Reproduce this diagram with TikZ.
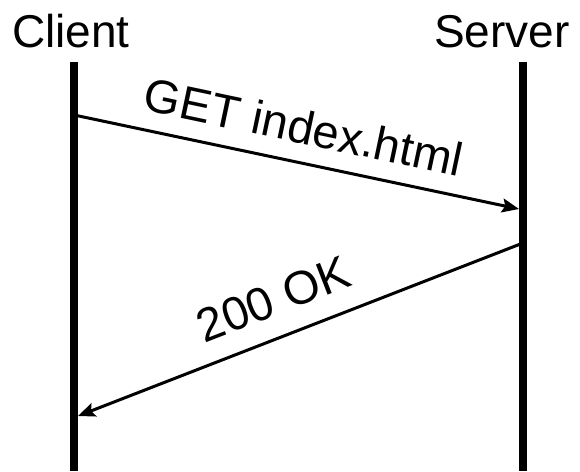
\documentclass[tikz,border=0pt]{standalone}
\usepackage{fontspec}
\setmainfont{Liberation Sans}
\usetikzlibrary{arrows.meta}
\begin{document}
\begin{tikzpicture}[x=1pt,y=-1pt,
  lifeline/.style={line width=7.5pt},
  message/.style={line width=3pt,-{Stealth[length=17pt,width=14pt,inset=3pt]}},
  party/.style={anchor=base,inner sep=0pt,font=\fontsize{46}{55}\selectfont},
  msglabel/.style={sloped,above,inner sep=0pt,font=\fontsize{47}{56}\selectfont}]
  \useasboundingbox (0,0) rectangle (580,471);

  % participants
  \node[party] (client) at (71,47) {Client};
  \node[party] (server) at (502,47) {Server};

  % lifelines
  \coordinate (ctop) at (74,62);
  \coordinate (cbot) at (74,471);
  \coordinate (stop) at (523,62);
  \coordinate (sbot) at (523,471);
  \draw[lifeline] (ctop) -- (cbot);
  \draw[lifeline] (stop) -- (sbot);

  % message end points on the lifelines
  \coordinate (reqfrom) at (74,115);
  \coordinate (reqto) at (519,209);
  \coordinate (respfrom) at (523,243);
  \coordinate (respto) at (78,416);

  % request and response
  \draw[message] (reqfrom) -- node[msglabel,pos=0.5,yshift=17pt] {GET index.html} (reqto);
  \draw[message] (respfrom) -- node[msglabel,pos=0.53,yshift=20pt] {200 OK} (respto);
\end{tikzpicture}
\end{document}
